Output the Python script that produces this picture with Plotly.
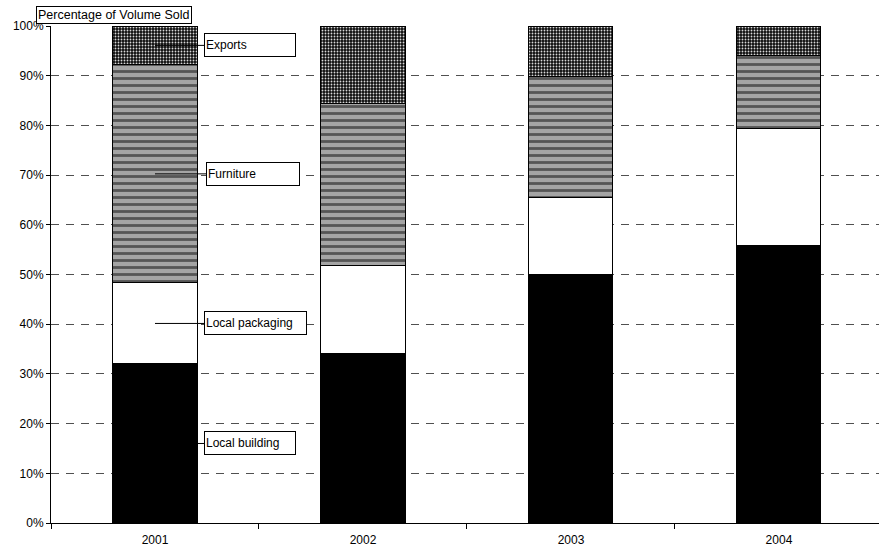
import plotly.graph_objects as go

# Share of volume sold by market segment (percent of each year's total)
years = ["2001", "2002", "2003", "2004"]
local_building = [32.0, 34.1, 50.0, 55.8]
local_packaging = [16.3, 17.8, 15.5, 23.5]
furniture = [43.9, 32.6, 24.3, 14.7]
exports = [7.8, 15.5, 10.2, 6.0]
y_ticks = [0, 10, 20, 30, 40, 50, 60, 70, 80, 90, 100]
y_tick_text = [f"{v}%" for v in y_ticks]

FONT = "Liberation Sans, Arial, sans-serif"

segments = [
    ("Local building", local_building,
     dict(color="black")),
    ("Local packaging", local_packaging,
     dict(color="white")),
    ("Furniture", furniture,
     dict(color="#a0a0a0",
          pattern=dict(shape="-", fillmode="replace", bgcolor="#a4a4a4",
                       fgcolor="#555555", size=7, solidity=0.4))),
    ("Exports", exports,
     dict(color="#1a1a1a",
          pattern=dict(shape=".", fillmode="replace", bgcolor="#0d0d0d",
                       fgcolor="#d8d8d8", size=3, solidity=0.3))),
]

fig = go.Figure()
for name, vals, mk in segments:
    mk = dict(mk)
    mk["line"] = dict(color="black", width=1)
    fig.add_trace(go.Bar(x=years, y=vals, name=name, marker=mk,
                         showlegend=False, hoverinfo="skip"))

# Leader-line labels attached to the 2001 column, at each segment's midpoint
box_specs = {
    "Local building": (88, 95.5),
    "Local packaging": (99, 101),
    "Furniture": (90, 98.5),
    "Exports": (88, 95.5),
}
base = 0.0
for name, vals, _ in segments:
    mid = base + vals[0] / 2
    base += vals[0]
    w, ax = box_specs[name]
    fig.add_annotation(
        x=0, y=mid, xref="x", yref="y",
        text=name, showarrow=True, arrowhead=0, arrowwidth=1,
        arrowcolor="black", ax=ax, ay=0, standoff=0, startstandoff=0,
        width=w, height=20, align="left", valign="middle",
        bordercolor="black", borderwidth=1, borderpad=1, bgcolor="white",
        font=dict(family=FONT, size=12, color="black"),
    )

# Axis title box above the value axis
fig.add_annotation(
    x=0, y=1, xref="paper", yref="paper", xanchor="left", yanchor="bottom",
    xshift=-15, yshift=2, text="Percentage of Volume Sold", showarrow=False,
    bordercolor="black", borderwidth=1, borderpad=1, bgcolor="white",
    font=dict(family=FONT, size=12.5, color="black"),
)

fig.update_layout(
    barmode="stack",
    bargap=0.596,
    width=879, height=550,
    margin=dict(l=51, r=0, t=26, b=27),
    plot_bgcolor="white", paper_bgcolor="white",
    font=dict(family=FONT, size=12, color="black"),
)
fig.update_xaxes(
    type="category", range=[-0.5, 3.481],
    showline=True, linecolor="black", linewidth=1,
    ticks="outside", tickson="boundaries", ticklen=5, tickcolor="black",
    ticklabelstandoff=6,
    showgrid=False, tickfont=dict(family=FONT, size=12, color="black"),
)
fig.update_yaxes(
    range=[0, 100], tickvals=y_ticks, ticktext=y_tick_text,
    showline=True, linecolor="black", linewidth=1,
    ticks="outside", ticklen=4, tickcolor="black",
    showgrid=True, gridcolor="#505050", gridwidth=1, griddash="8px,7px",
    zeroline=False, tickfont=dict(family=FONT, size=12, color="black"),
)

fig.write_html("out.html")
